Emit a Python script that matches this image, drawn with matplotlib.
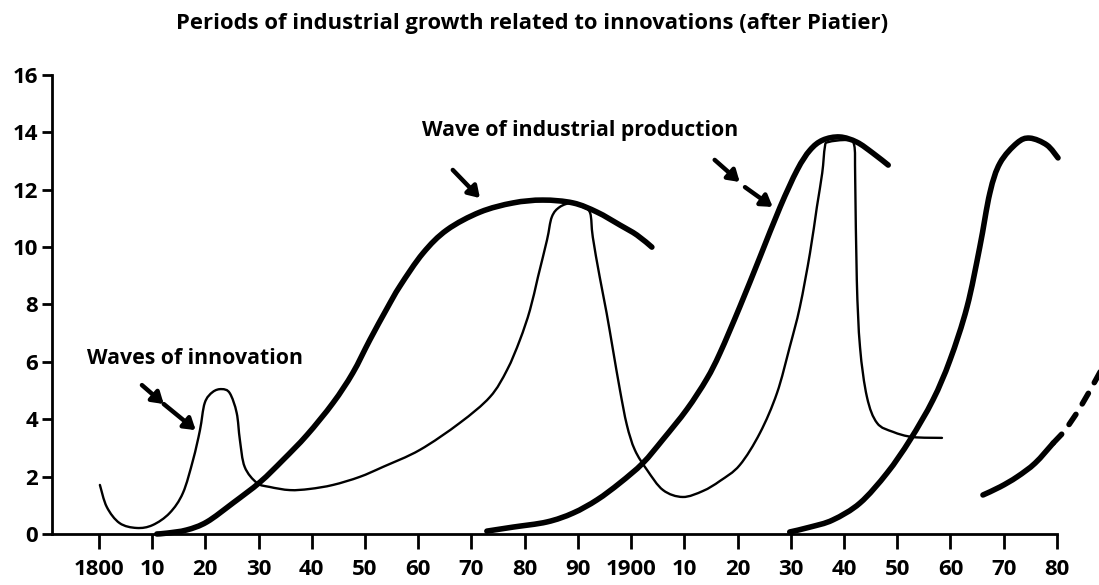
import numpy as np
import matplotlib
matplotlib.use('Agg')
from matplotlib import pyplot as plt
from matplotlib.path import Path
from matplotlib.patches import PathPatch

## Periods of industrial growth related to innovations (after Piatier)
## values (years on x, index on y)

# thin line: the waves of innovation (one continuous stroke)
innov_year = [1800.2, 1801.5, 1803.9, 1807.1, 1810.1, 1813.3, 1815.8, 1817.7, 1819.0, 1819.9,
              1821.4, 1823.1, 1824.6, 1825.9, 1826.5, 1827.4, 1829.7, 1832.1, 1835.9, 1839.6,
              1844.0, 1849.0, 1853.4, 1860.3, 1867.8, 1873.5, 1876.7, 1879.1, 1881.0, 1882.5,
              1884.2, 1885.1, 1886.6, 1888.9, 1890.9, 1892.3, 1892.8, 1894.1, 1895.4, 1896.6,
              1897.9, 1899.2, 1900.7, 1903.0, 1906.0, 1909.7, 1913.5, 1916.7, 1920.4, 1924.2,
              1927.4, 1929.8, 1931.7, 1933.6, 1934.9, 1935.9, 1936.4, 1937.0, 1940.5, 1941.9,
              1942.1, 1942.4, 1943.0, 1944.3, 1946.2, 1949.2, 1952.9, 1958.4]
innov_val = [1.71, 0.94, 0.38, 0.21, 0.31, 0.73, 1.43, 2.58, 3.62, 4.57,
             4.95, 5.05, 4.91, 4.22, 3.28, 2.34, 1.78, 1.64, 1.53, 1.57,
             1.71, 1.99, 2.34, 2.93, 3.87, 4.78, 5.72, 6.76, 7.81, 8.96,
             10.25, 11.05, 11.40, 11.54, 11.40, 11.19, 10.35, 8.96, 7.70, 6.41,
             5.02, 3.80, 2.93, 2.23, 1.53, 1.29, 1.50, 1.85, 2.40, 3.52,
             4.91, 6.52, 7.91, 9.79, 11.40, 12.58, 13.49, 13.66, 13.73, 13.56,
             12.34, 8.85, 6.52, 4.78, 3.87, 3.56, 3.38, 3.35]

# thick lines: the waves of industrial production
prod1_year = [1810.9, 1812.8, 1816.5, 1820.3, 1825.2, 1830.3, 1834.6, 1839.1, 1844.0, 1847.7,
              1850.9, 1854.1, 1856.6, 1860.9, 1865.4, 1871.6, 1877.8, 1883.4, 1889.1, 1893.6,
              1897.9, 1901.1, 1903.9]
prod1_val = [0.0, 0.03, 0.14, 0.42, 1.08, 1.81, 2.58, 3.45, 4.57, 5.61,
             6.76, 7.85, 8.65, 9.79, 10.60, 11.22, 11.54, 11.64, 11.54, 11.22,
             10.77, 10.42, 10.00]

prod2_year = [1872.9, 1877.8, 1884.2, 1889.1, 1893.6, 1897.9, 1902.2, 1906.0, 1910.5, 1914.2,
              1916.7, 1920.4, 1924.2, 1928.0, 1931.2, 1933.6, 1936.0, 1939.2, 1942.4, 1945.4,
              1948.3]
prod2_val = [0.10, 0.24, 0.42, 0.73, 1.19, 1.78, 2.47, 3.30, 4.35, 5.40,
             6.31, 7.91, 9.65, 11.40, 12.69, 13.38, 13.73, 13.84, 13.66, 13.28,
             12.86]

prod3_year = [1929.8, 1933.6, 1937.9, 1943.0, 1948.1, 1952.4, 1956.7, 1959.9, 1963.1, 1965.5,
              1967.4, 1969.3, 1972.5, 1974.9, 1978.1, 1980.2]
prod3_val = [0.07, 0.24, 0.49, 1.08, 2.13, 3.28, 4.67, 6.06, 7.91, 10.00,
             11.89, 12.93, 13.63, 13.80, 13.56, 13.11]

# next wave: drawn part and the dashed forecast
prod4_year = [1966.1, 1969.3, 1972.5, 1975.9, 1979.3]
prod4_val = [1.36, 1.64, 1.99, 2.47, 3.17]
prod4f_year = [1979.3, 1981.5, 1984.3, 1987.5, 1988.6]
prod4f_val = [3.17, 3.62, 4.39, 5.44, 5.82]

# axis labels
ytick_vals = [0, 2, 4, 6, 8, 10, 12, 14, 16]
xtick_years = list(range(1800, 1981, 10))
xtick_labs = ['1800', '10', '20', '30', '40', '50', '60', '70', '80', '90',
              '1900', '10', '20', '30', '40', '50', '60', '70', '80']

title = 'Periods of industrial growth related to innovations (after Piatier)'


def smooth_path(xs, ys):
    ## pass a smooth (Catmull-Rom as bezier) stroke through the read points
    P = np.column_stack([xs, ys]).astype(float)
    n = len(P)
    verts = [P[0]]
    codes = [Path.MOVETO]
    for i in range(n - 1):
        p0 = P[i - 1] if i > 0 else P[i]
        p1 = P[i]
        p2 = P[i + 1]
        p3 = P[i + 2] if i + 2 < n else P[i + 1]
        verts += [p1 + (p2 - p0) / 6.0, p2 - (p3 - p1) / 6.0, p2]
        codes += [Path.CURVE4] * 3
    return Path(verts, codes)


plt.rcParams['font.family'] = ['Open Sans', 'DejaVu Sans']

fig = plt.figure(figsize=(10.99, 5.85), dpi=100)
ax = fig.add_axes([0.0473, 0.0872, 0.9527, 0.7846])


def stroke(xs, ys, lw, clip=False, dashed=False):
    pp = PathPatch(smooth_path(xs, ys), fill=False, edgecolor='black', lw=lw,
                   joinstyle='round', capstyle='round', transform=ax.transData, clip_on=clip)
    if dashed:
        pp.set_linestyle((0, (2.2, 2.2)))
    ax.add_patch(pp)


stroke(innov_year, innov_val, 1.7)
stroke(prod1_year, prod1_val, 4.0)
stroke(prod2_year, prod2_val, 4.0)
stroke(prod3_year, prod3_val, 4.0)
stroke(prod4_year, prod4_val, 4.0)
stroke(prod4f_year, prod4f_val, 4.0, clip=True, dashed=True)

## arrows pointing at the curves
arr = dict(arrowstyle='-|>,head_length=0.55,head_width=0.35', lw=3.2, color='black',
           shrinkA=0, shrinkB=0, mutation_scale=12)
ax.annotate('', xy=(1812.2, 4.53), xytext=(1808.1, 5.19), arrowprops=arr)
ax.annotate('', xy=(1818.2, 3.62), xytext=(1812.2, 4.53), arrowprops=arr)
ax.annotate('', xy=(1871.6, 11.71), xytext=(1866.5, 12.69), arrowprops=arr)
ax.annotate('', xy=(1920.4, 12.27), xytext=(1915.7, 13.04), arrowprops=arr)
ax.annotate('', xy=(1926.6, 11.40), xytext=(1921.4, 12.09), arrowprops=arr)

ax.text(1797.7, 6.13, 'Waves of innovation', ha='left', va='center', fontsize=15.3,
        fontweight='bold')
ax.text(1920.1, 14.05, 'Wave of industrial production', ha='right', va='center', fontsize=15.3,
        fontweight='bold')

fig.text(0.484, 0.950, title, ha='center', va='baseline', fontsize=15.8, fontweight='bold')

## axes
ax.set_xlim(1791.2, 1987.9)
ax.set_ylim(0, 16)
for s in ['top', 'right']:
    ax.spines[s].set_visible(False)
ax.spines['left'].set_linewidth(2.0)
ax.spines['bottom'].set_linewidth(2.0)
ax.spines['bottom'].set_bounds(1791.2, 1980)
ax.spines['left'].set_bounds(0, 16)

ax.set_yticks(ytick_vals)
ax.set_yticklabels([str(v) for v in ytick_vals], fontsize=16, fontweight='bold')
ax.set_xticks(xtick_years)
ax.set_xticklabels(xtick_labs, fontsize=16, fontweight='bold')
ax.tick_params(axis='y', direction='out', length=7, width=2, pad=3)
ax.tick_params(axis='x', direction='out', length=11, width=2, pad=7)

fig.savefig('out.png', dpi=100)
